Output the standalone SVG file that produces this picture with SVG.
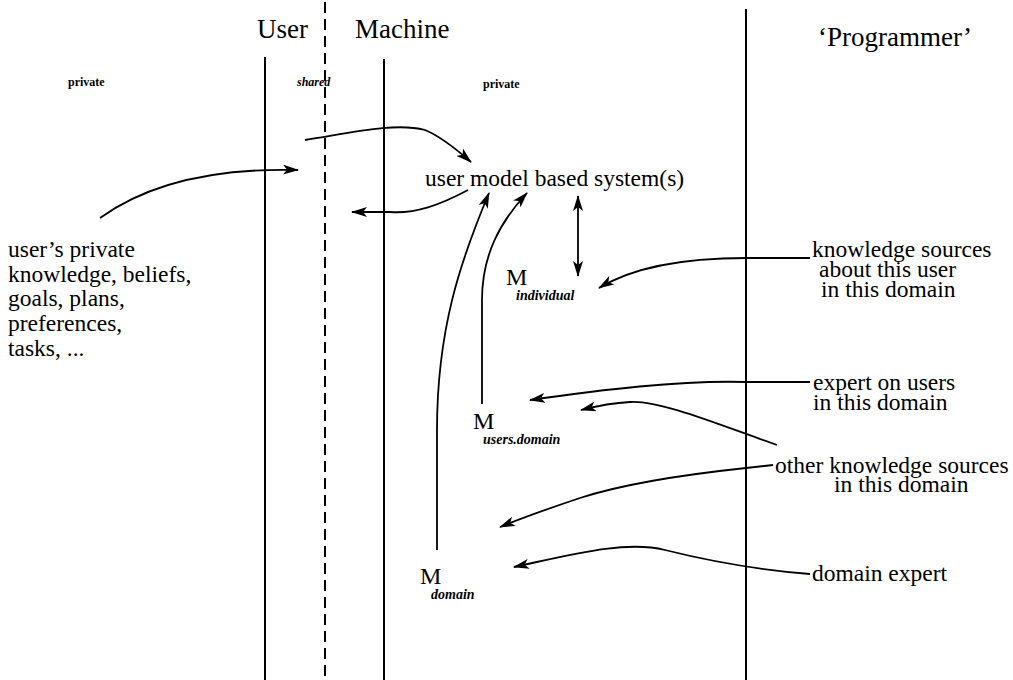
<svg xmlns="http://www.w3.org/2000/svg" width="1013" height="680" viewBox="0 0 1013 680">
<style>
text{font-family:"Liberation Serif","Times New Roman",serif;fill:#000}
.big{font-size:27px}
.lbl{font-size:23.5px}
.tiny{font-size:12px;font-weight:bold}
.sub{font-size:14px;font-style:italic;font-weight:bold}
.M{font-size:24px}
.col{stroke:#000;stroke-width:2;fill:none}
.dash{stroke:#000;stroke-width:2;fill:none;stroke-dasharray:11 6}
.c{stroke:#000;stroke-width:1.8;fill:none;marker-end:url(#ah)}
</style>
<defs>
<marker id="ah" viewBox="0 0 16 10" refX="15" refY="5" markerWidth="16" markerHeight="10" markerUnits="userSpaceOnUse" orient="auto-start-reverse">
<path d="M0,0 L16,5 L0,10 L4,5 z" fill="#000"/>
</marker>
</defs>
<rect width="1013" height="680" fill="#fff"/>
<g id="columns">
<line class="col" x1="265" y1="57" x2="265" y2="680"/>
<line class="dash" x1="325" y1="2" x2="325" y2="680"/>
<line class="col" x1="384" y1="59" x2="384" y2="680"/>
<line class="col" x1="746" y1="9" x2="746" y2="680"/>
</g>
<g id="headers">
<text class="big" x="257" y="38">User</text>
<text class="big" x="355" y="38">Machine</text>
<text class="big" x="818" y="46">‘Programmer’</text>
<text class="tiny" x="68" y="86">private</text>
<text class="tiny" x="297" y="86" font-style="italic" font-weight="normal">shared</text>
<text class="tiny" x="483" y="88">private</text>
</g>
<g id="system"><text class="lbl" x="425" y="186">user model based system(s)</text></g>
<g id="userknowledge">
<text class="lbl" x="8" y="257">user’s private</text>
<text class="lbl" x="8" y="282">knowledge, beliefs,</text>
<text class="lbl" x="8" y="306">goals, plans,</text>
<text class="lbl" x="8" y="331">preferences,</text>
<text class="lbl" x="8" y="356">tasks, ...</text>
</g>
<g id="m-individual"><text class="M" x="506" y="285">M</text><text class="sub" x="516" y="300">individual</text></g>
<g id="m-users-domain"><text class="M" x="473" y="429">M</text><text class="sub" x="483" y="444">users.domain</text></g>
<g id="m-domain"><text class="M" x="420" y="584">M</text><text class="sub" x="431" y="599">domain</text></g>
<g id="src-user">
<text class="lbl" x="812" y="257">knowledge sources</text>
<text class="lbl" x="819" y="277">about this user</text>
<text class="lbl" x="821" y="297">in this domain</text>
</g>
<g id="src-expert-users">
<text class="lbl" x="813" y="390">expert on users</text>
<text class="lbl" x="813" y="410">in this domain</text>
</g>
<g id="src-other">
<text class="lbl" x="775" y="473">other knowledge sources</text>
<text class="lbl" x="834" y="492">in this domain</text>
</g>
<g id="src-domain-expert"><text class="lbl" x="812" y="581">domain expert</text></g>
<g id="connectors">
<path class="c" d="M100,218 C150,182 220,168 298,170"/>
<path class="c" d="M305,140 C350,133 395,122 425,130 C440,136 455,148 471,162"/>
<path class="c" d="M468,190 C440,205 415,214 390,212 L352,212"/>
<path class="c" d="M437,550 L437,430 C437,330 460,262 489,193"/>
<path class="c" d="M482,404 L482,300 C482,255 500,222 527,193"/>
<path class="c" style="marker-start:url(#ah)" d="M578,196 L578,276"/>
<path class="c" d="M810,258 L746,258 C700,258 640,263 599,288"/>
<path class="c" d="M810,382 L746,382 C680,380 600,390 530,400"/>
<path class="c" d="M777,445 C720,425 660,400 630,402 C612,403 597,406 581,410"/>
<path class="c" d="M773,465 L746,468 C680,475 620,485 580,498 C550,508 522,518 500,527"/>
<path class="c" d="M810,574 C760,570 705,560 665,550 C625,540 570,555 514,567"/>
</g>
</svg>
